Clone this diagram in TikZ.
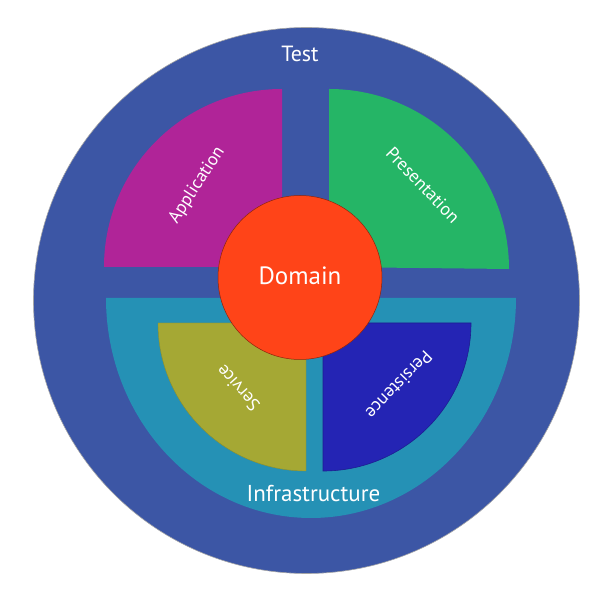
\documentclass[tikz,border=0pt]{standalone}
\usepackage{fontspec}
\setmainfont{PT Sans}
\definecolor{testblue}{RGB}{60,86,165}
\definecolor{appmagenta}{RGB}{176,36,152}
\definecolor{presgreen}{RGB}{37,181,102}
\definecolor{domainred}{RGB}{255,68,24}
\definecolor{infrateal}{RGB}{37,145,181}
\definecolor{serviceolive}{RGB}{165,168,52}
\definecolor{persistblue}{RGB}{36,36,180}
\begin{document}
\begin{tikzpicture}[x=1pt,y=1pt,
  layer/.style={draw=none},
  label/.style={text=white,inner sep=0pt,font=\fontsize{18}{20}\selectfont},
  ringlabel/.style={text=white,inner sep=0pt,anchor=base}]
\useasboundingbox (0,0) rectangle (600,600);

% outer ring: Test
\fill[testblue,draw=black!35,line width=0.6pt] (306.5,299.5) circle[radius=273];

% upper quadrants
\fill[appmagenta] (282,333) -- ++(-178,0) arc[start angle=180,end angle=90,radius=178] -- cycle;
\fill[presgreen] (329,333) -- ++(0,178) arc[start angle=90,end angle=0,radius=180] -- cycle;

% infrastructure half disc
\fill[infrateal] (106,302) -- (516,302) arc[start angle=0,end angle=-180,x radius=205,y radius=220] -- cycle;

% lower quadrants
\filldraw[serviceolive,draw=serviceolive!85!black,line width=0.4pt] (306,277) -- ++(-148,0) arc[start angle=180,end angle=270,radius=148] -- cycle;
\filldraw[persistblue,draw=persistblue!80!black,line width=0.6pt] (323,277) -- ++(0,-148) arc[start angle=270,end angle=360,radius=148] -- cycle;

% domain core
\node[circle,fill=domainred,draw=domainred!55!black,line width=0.5pt,minimum size=164pt,inner sep=0pt] (domain) at (300,322.5) {};
\node[ringlabel,font=\fontsize{25}{28}\selectfont] (domaintext) at (300,315) {Domain};

% labels
\node[ringlabel,font=\fontsize{22}{24}\selectfont] (test) at (300,538) {Test};
\node[ringlabel,font=\fontsize{23}{25}\selectfont] (infra) at (313.5,98) {Infrastructure};
\node[label,rotate=57] (app) at (197,415) {Application};
\node[label,rotate=-46] (pres) at (423,415) {Presentation};
\node[label,rotate=132] (serv) at (238,212) {Service};
\node[label,rotate=226] (pers) at (399,215) {Persistence};
\end{tikzpicture}
\end{document}
